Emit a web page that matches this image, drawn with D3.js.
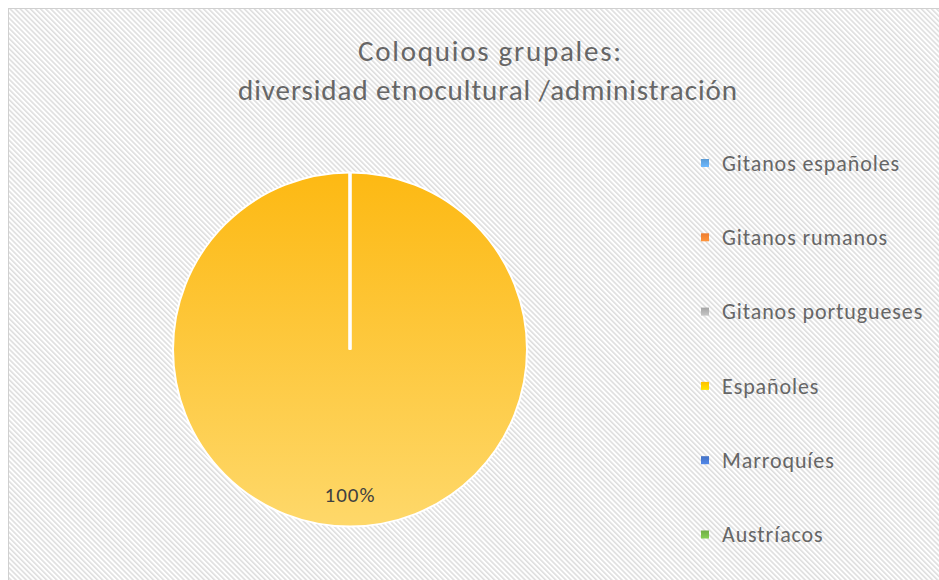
<!DOCTYPE html>
<html>
<head>
<meta charset="utf-8">
<script src="https://cdn.jsdelivr.net/npm/d3@7"></script>
<style>
  body { margin: 0; background: #fff; }
  svg { display: block; font-family: Carlito, Lato, "Liberation Sans", sans-serif; }
</style>
</head>
<body>
<script>
var categories = [
  "Gitanos españoles",
  "Gitanos rumanos",
  "Gitanos portugueses",
  "Españoles",
  "Marroquíes",
  "Austríacos"
];
var values = [0, 0, 0, 100, 0, 0];
var colors = ["#5B9BD5", "#ED7D31", "#A5A5A5", "#FFC000", "#4472C4", "#70AD47"];
var titleLines = ["Coloquios grupales:", "diversidad etnocultural /administración"];

var width = 939,
  height = 580;

var svg = d3
  .select("body")
  .append("svg")
  .attr("width", width)
  .attr("height", height);

var defs = svg.append("defs");

// diagonal hatch background
var pat = defs
  .append("pattern")
  .attr("id", "hatch")
  .attr("patternUnits", "userSpaceOnUse")
  .attr("width", 3.6)
  .attr("height", 3.6)
  .attr("patternTransform", "rotate(-45)");
pat.append("rect").attr("width", 3.6).attr("height", 3.6).attr("fill", "#ffffff");
pat
  .append("rect")
  .attr("width", 1.6)
  .attr("height", 3.6)
  .attr("fill", "#dedede");

var grad = defs
  .append("linearGradient")
  .attr("id", "sliceGrad")
  .attr("x1", 0)
  .attr("y1", 0)
  .attr("x2", 0)
  .attr("y2", 1);
grad.append("stop").attr("offset", "0%").attr("stop-color", "#FDB913");
grad.append("stop").attr("offset", "100%").attr("stop-color", "#FED86A");

colors.forEach(function(c, i) {
  var g = defs
    .append("linearGradient")
    .attr("id", "mk" + i)
    .attr("x1", 0)
    .attr("y1", 0)
    .attr("x2", 0)
    .attr("y2", 1);
  g.append("stop").attr("offset", "0%").attr("stop-color", c);
  g.append("stop").attr("offset", "100%").attr("stop-color", d3.rgb(c).brighter(0.5));
});

svg
  .append("rect")
  .attr("x", 8.5)
  .attr("y", 8.5)
  .attr("width", width)
  .attr("height", height)
  .attr("fill", "url(#hatch)")
  .attr("stroke", "#d0d0d0");

// title
var titleW = [263, 499];
svg
  .append("g")
  .selectAll("text")
  .data(titleLines)
  .enter()
  .append("text")
  .attr("x", function(d, i) {
    return i ? 487.5 : 489.5;
  })
  .attr("y", function(d, i) {
    return 61 + i * 39;
  })
  .attr("text-anchor", "middle")
  .attr("font-size", 29)
  .attr("fill", "#666666")
  .attr("textLength", function(d, i) {
    return titleW[i];
  })
  .attr("lengthAdjust", "spacing")
  .text(function(d) {
    return d;
  });

// pie
var cx = 350,
  cy = 349.5,
  r = 177;

var pie = d3
  .pie()
  .sort(null)
  .value(function(d) {
    return d;
  });
var arcs = pie(values);
var arc = d3.arc().innerRadius(0).outerRadius(r);

var pieG = svg.append("g").attr("transform", "translate(" + cx + "," + cy + ")");

pieG
  .selectAll("path")
  .data(arcs.filter(function(d) {
    return d.value > 0;
  }))
  .enter()
  .append("path")
  .attr("d", arc)
  .attr("fill", "url(#sliceGrad)")
  .attr("stroke", "#fff")
  .attr("stroke-width", 2);

// slice borders (white radial lines)
pieG
  .selectAll("line.edge")
  .data(arcs)
  .enter()
  .append("line")
  .attr("class", "edge")
  .attr("x1", 0)
  .attr("y1", 0)
  .attr("x2", function(d) {
    return r * Math.sin(d.startAngle);
  })
  .attr("y2", function(d) {
    return -r * Math.cos(d.startAngle);
  })
  .attr("stroke", "#fff")
  .attr("stroke-width", 2.5);

var total = d3.sum(values);

pieG
  .selectAll("text")
  .data(arcs.filter(function(d) {
    return d.value > 0;
  }))
  .enter()
  .append("text")
  .attr("transform", function(d) {
    var a = (d.startAngle + d.endAngle) / 2;
    return "translate(" + r * 0.82 * Math.sin(a) + "," + -r * 0.82 * Math.cos(a) + ")";
  })
  .attr("dy", "0.35em")
  .attr("text-anchor", "middle")
  .attr("font-size", 21)
  .attr("letter-spacing", 1)
  .attr("fill", "#404040")
  .text(function(d) {
    return Math.round((d.value / total) * 100) + "%";
  });

// legend
var legend = svg
  .selectAll(".legend")
  .data(categories)
  .enter()
  .append("g")
  .attr("class", "legend")
  .attr("transform", function(d, i) {
    return "translate(701," + (163 + i * 74.3) + ")";
  });

legend
  .append("rect")
  .attr("x", 0)
  .attr("y", -4)
  .attr("width", 8)
  .attr("height", 8)
  .attr("fill", function(d, i) {
    return "url(#mk" + i + ")";
  });

legend
  .append("text")
  .attr("x", 21)
  .attr("dy", "0.35em")
  .attr("font-size", 22)
  .attr("letter-spacing", 0.9)
  .attr("fill", "#666666")
  .text(function(d) {
    return d;
  });
</script>
</body>
</html>
